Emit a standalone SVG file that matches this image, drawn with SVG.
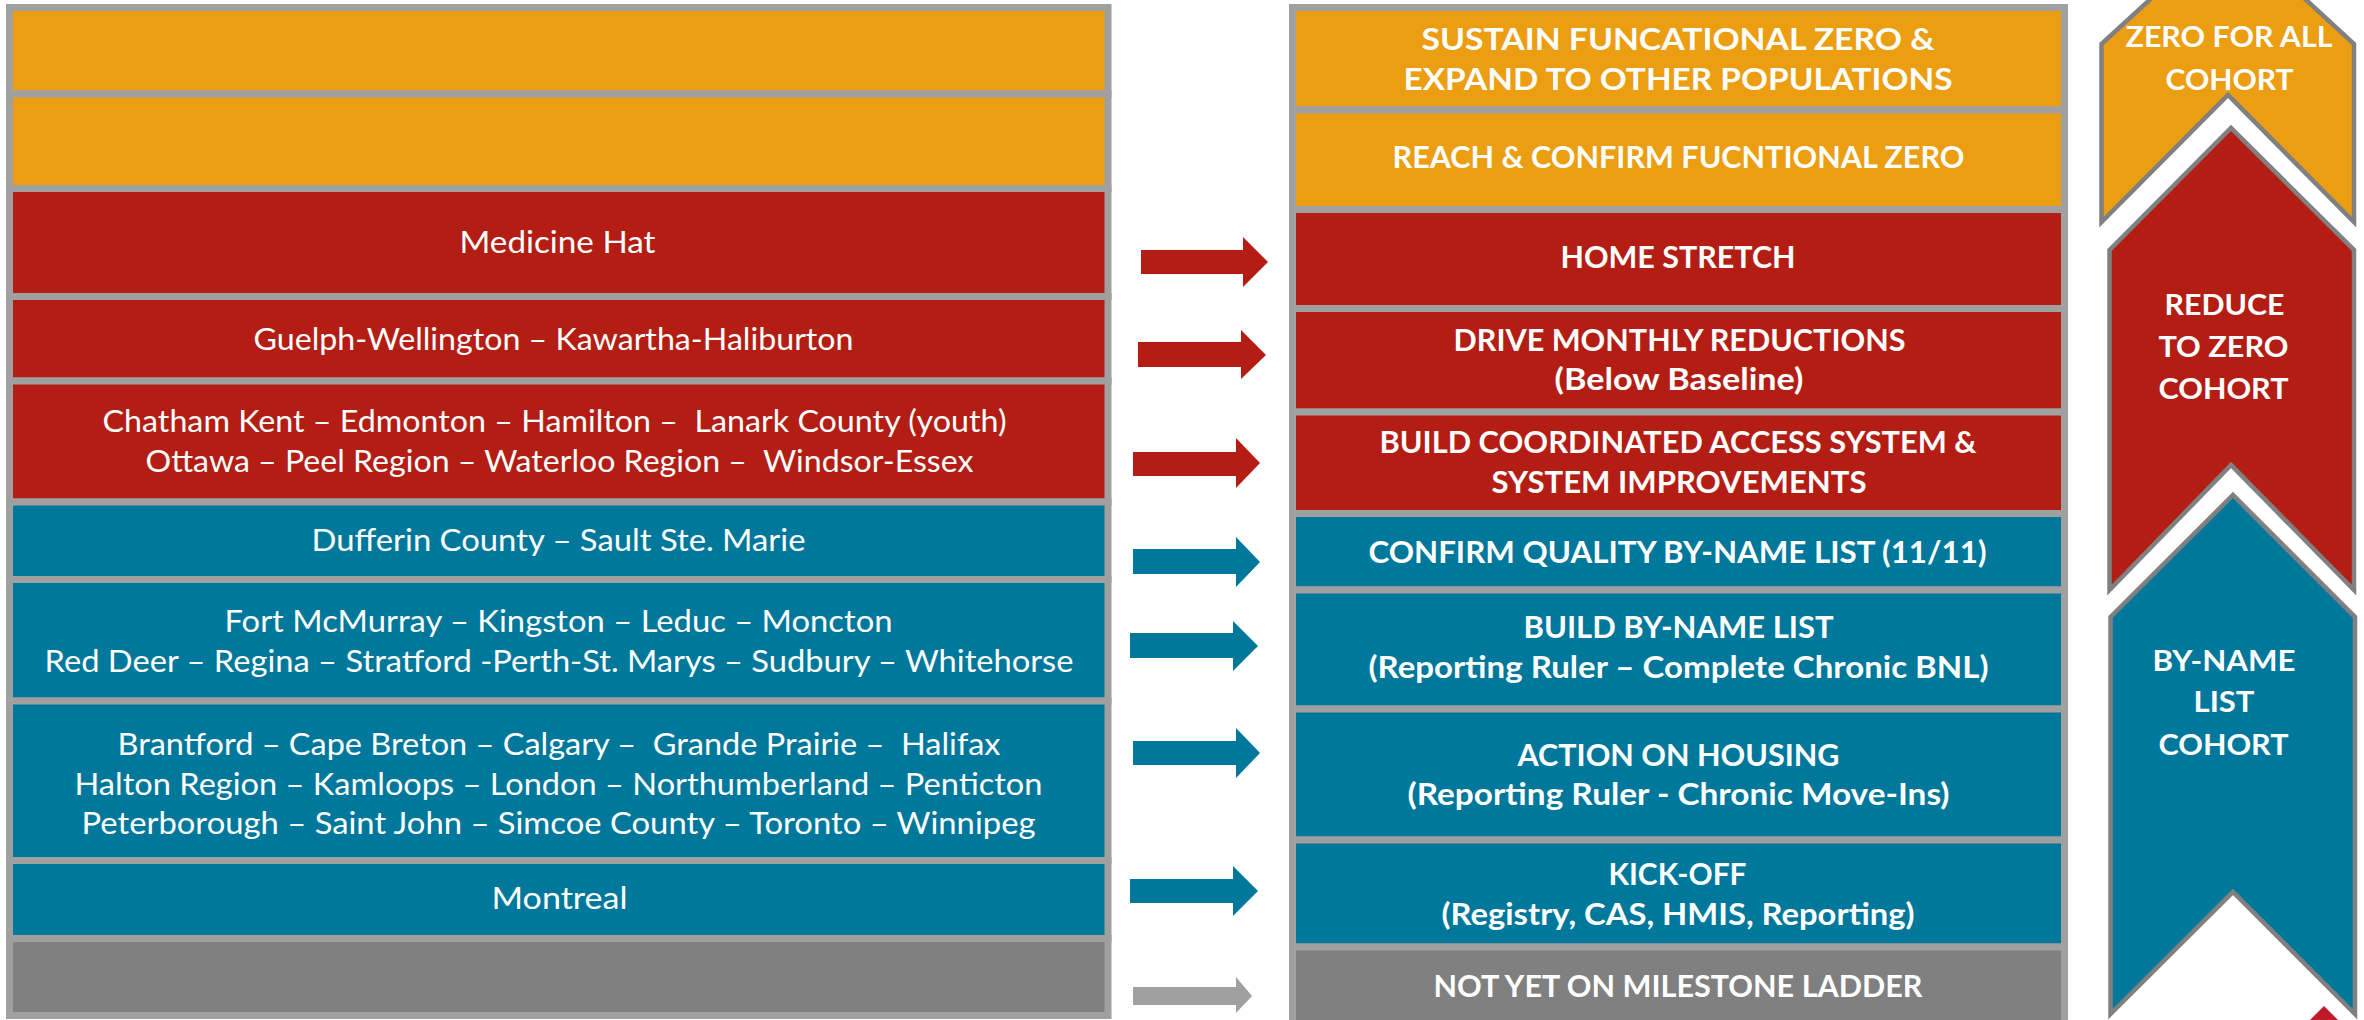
<svg xmlns="http://www.w3.org/2000/svg" width="2364" height="1020" viewBox="0 0 2364 1020">
<style>
.box{stroke:#A0A0A0;stroke-width:7}
.or{fill:#EC9E12}.rd{fill:#B31D14}.tl{fill:#00789C}.gy{fill:#808080}
.chev{stroke:#808080;stroke-width:4.5;stroke-linejoin:miter}
.t{font-family:Lato,"Open Sans","Liberation Sans",sans-serif;font-size:30px;fill:#FFFFFF;text-anchor:middle;white-space:pre}
.b{font-weight:bold}
.r{font-size:28px}
.ar{fill:#B31D14}.at{fill:#00789C}.ag{fill:#A0A0A0}
</style>
<rect width="2364" height="1020" fill="#FFFFFF"/>

<!-- Left column -->
<g id="left-zero-2"><rect class="box or" x="9.5" y="7.5" width="1098.5" height="86.5"/></g>
<g id="left-zero-1"><rect class="box or" x="9.5" y="94" width="1098.5" height="94.5"/></g>
<g id="left-home-stretch"><rect class="box rd" x="9.5" y="188.5" width="1098.5" height="108"/>
<text class="t" x="557.5" y="253" textLength="196" lengthAdjust="spacingAndGlyphs">Medicine Hat</text></g>
<g id="left-drive"><rect class="box rd" x="9.5" y="296.5" width="1098.5" height="84.5"/>
<text class="t" x="553.5" y="349.5" textLength="600" lengthAdjust="spacingAndGlyphs">Guelph-Wellington – Kawartha-Haliburton</text></g>
<g id="left-cas"><rect class="box rd" x="9.5" y="381" width="1098.5" height="121"/>
<text class="t" x="554.5" y="432" textLength="904" lengthAdjust="spacingAndGlyphs">Chatham Kent – Edmonton – Hamilton –  Lanark County (youth)</text>
<text class="t" x="559.5" y="472" textLength="828" lengthAdjust="spacingAndGlyphs">Ottawa – Peel Region – Waterloo Region –  Windsor-Essex</text></g>
<g id="left-confirm"><rect class="box tl" x="9.5" y="502" width="1098.5" height="77.5"/>
<text class="t" x="558.5" y="551" textLength="494" lengthAdjust="spacingAndGlyphs">Dufferin County – Sault Ste. Marie</text></g>
<g id="left-bnl"><rect class="box tl" x="9.5" y="579.5" width="1098.5" height="121.5"/>
<text class="t" x="558.5" y="632" textLength="668" lengthAdjust="spacingAndGlyphs">Fort McMurray – Kingston – Leduc – Moncton</text>
<text class="t" x="559" y="672" textLength="1029" lengthAdjust="spacingAndGlyphs">Red Deer – Regina – Stratford -Perth-St. Marys – Sudbury – Whitehorse</text></g>
<g id="left-housing"><rect class="box tl" x="9.5" y="701" width="1098.5" height="159.5"/>
<text class="t" x="559" y="755" textLength="883" lengthAdjust="spacingAndGlyphs">Brantford – Cape Breton – Calgary –  Grande Prairie –  Halifax</text>
<text class="t" x="558.5" y="795" textLength="968" lengthAdjust="spacingAndGlyphs">Halton Region – Kamloops – London – Northumberland – Penticton</text>
<text class="t" x="558.5" y="834" textLength="954" lengthAdjust="spacingAndGlyphs">Peterborough – Saint John – Simcoe County – Toronto – Winnipeg</text></g>
<g id="left-kickoff"><rect class="box tl" x="9.5" y="860.5" width="1098.5" height="78"/>
<text class="t" x="559.5" y="909" textLength="136" lengthAdjust="spacingAndGlyphs">Montreal</text></g>
<g id="left-notyet"><rect class="box gy" x="9.5" y="938.5" width="1098.5" height="77"/></g>

<!-- Middle column -->
<g id="stage-sustain"><rect class="box or" x="1292.5" y="7.5" width="772" height="102.5"/>
<text class="t b" x="1678" y="50" textLength="513" lengthAdjust="spacingAndGlyphs">SUSTAIN FUNCATIONAL ZERO &amp;</text>
<text class="t b" x="1678" y="90" textLength="549" lengthAdjust="spacingAndGlyphs">EXPAND TO OTHER POPULATIONS</text></g>
<g id="stage-reach"><rect class="box or" x="1292.5" y="110" width="772" height="99.5"/>
<text class="t b" x="1678.5" y="168" textLength="572" lengthAdjust="spacingAndGlyphs">REACH &amp; CONFIRM FUCNTIONAL ZERO</text></g>
<g id="stage-home"><rect class="box rd" x="1292.5" y="209.5" width="772" height="99"/>
<text class="t b" x="1678" y="268" textLength="235" lengthAdjust="spacingAndGlyphs">HOME STRETCH</text></g>
<g id="stage-drive"><rect class="box rd" x="1292.5" y="308.5" width="772" height="103.5"/>
<text class="t b" x="1679.5" y="351" textLength="452" lengthAdjust="spacingAndGlyphs">DRIVE MONTHLY REDUCTIONS</text>
<text class="t b" x="1679" y="390" textLength="249" lengthAdjust="spacingAndGlyphs">(Below Baseline)</text></g>
<g id="stage-cas"><rect class="box rd" x="1292.5" y="412" width="772" height="101.5"/>
<text class="t b" x="1678" y="453" textLength="597" lengthAdjust="spacingAndGlyphs">BUILD COORDINATED ACCESS SYSTEM &amp;</text>
<text class="t b" x="1679" y="493" textLength="375" lengthAdjust="spacingAndGlyphs">SYSTEM IMPROVEMENTS</text></g>
<g id="stage-confirm"><rect class="box tl" x="1292.5" y="513.5" width="772" height="76.5"/>
<text class="t b" x="1677.5" y="563" textLength="618" lengthAdjust="spacingAndGlyphs">CONFIRM QUALITY BY-NAME LIST (11/11)</text></g>
<g id="stage-bnl"><rect class="box tl" x="1292.5" y="590" width="772" height="119"/>
<text class="t b" x="1678.5" y="638" textLength="310" lengthAdjust="spacingAndGlyphs">BUILD BY-NAME LIST</text>
<text class="t b" x="1678.5" y="678" textLength="620" lengthAdjust="spacingAndGlyphs">(Reporting Ruler – Complete Chronic BNL)</text></g>
<g id="stage-housing"><rect class="box tl" x="1292.5" y="709" width="772" height="131"/>
<text class="t b" x="1678.5" y="766" textLength="322" lengthAdjust="spacingAndGlyphs">ACTION ON HOUSING</text>
<text class="t b" x="1678.5" y="805" textLength="542" lengthAdjust="spacingAndGlyphs">(Reporting Ruler - Chronic Move-Ins)</text></g>
<g id="stage-kickoff"><rect class="box tl" x="1292.5" y="840" width="772" height="107"/>
<text class="t b" x="1677.5" y="885" textLength="138" lengthAdjust="spacingAndGlyphs">KICK-OFF</text>
<text class="t b" x="1678" y="925" textLength="473" lengthAdjust="spacingAndGlyphs">(Registry, CAS, HMIS, Reporting)</text></g>
<g id="stage-notyet"><rect class="box gy" x="1292.5" y="947" width="772" height="85"/>
<text class="t b" x="1678" y="997" textLength="489" lengthAdjust="spacingAndGlyphs">NOT YET ON MILESTONE LADDER</text></g>

<!-- Right column chevrons -->
<g id="cohort-zero">
<polygon class="chev or" points="2101.5,44 2228,-72 2354,44 2354,222 2228,95 2101.5,222"/>
<text class="t b r" x="2229" y="47" textLength="207" lengthAdjust="spacingAndGlyphs">ZERO FOR ALL</text>
<text class="t b r" x="2229.5" y="90" textLength="128" lengthAdjust="spacingAndGlyphs">COHORT</text></g>
<g id="cohort-reduce">
<polygon class="chev rd" points="2109.5,250 2231,128 2354,250 2354,590 2231,465 2109.5,590"/>
<text class="t b r" x="2224.5" y="315" textLength="120" lengthAdjust="spacingAndGlyphs">REDUCE</text>
<text class="t b r" x="2223.5" y="357" textLength="130" lengthAdjust="spacingAndGlyphs">TO ZERO</text>
<text class="t b r" x="2223.5" y="399" textLength="130" lengthAdjust="spacingAndGlyphs">COHORT</text></g>
<g id="cohort-bnl">
<polygon class="chev tl" points="2110.5,617 2233,495 2355,617 2355,1014 2233,892 2110.5,1014"/>
<text class="t b r" x="2224" y="671" textLength="143" lengthAdjust="spacingAndGlyphs">BY-NAME</text>
<text class="t b r" x="2224" y="712" textLength="61" lengthAdjust="spacingAndGlyphs">LIST</text>
<text class="t b r" x="2223.5" y="755" textLength="130" lengthAdjust="spacingAndGlyphs">COHORT</text></g>
<g id="corner-mark"><polygon fill="#BE1A2C" points="2324,1006 2310,1020 2338,1020"/></g>

<!-- Connectors -->
<g id="connectors">
<polygon class="ar" points="1141,250 1243,250 1243,237 1268,262 1243,287 1243,274 1141,274"/>
<polygon class="ar" points="1138,342 1241,342 1241,330 1266,355 1241,379 1241,367 1138,367"/>
<polygon class="ar" points="1133,452 1236,452 1236,438 1260,463 1236,488 1236,476 1133,476"/>
<polygon class="at" points="1133,549 1236,549 1236,537 1260,562 1236,587 1236,574 1133,574"/>
<polygon class="at" points="1130,633 1233,633 1233,621 1258,646 1233,671 1233,658 1130,658"/>
<polygon class="at" points="1133,741 1236,741 1236,728 1260,753 1236,778 1236,765 1133,765"/>
<polygon class="at" points="1130,879 1233,879 1233,866 1258,891 1233,916 1233,903 1130,903"/>
<polygon class="ag" points="1133,987 1236,987 1236,977 1252,996 1236,1013 1236,1005 1133,1005"/>
</g>
</svg>
